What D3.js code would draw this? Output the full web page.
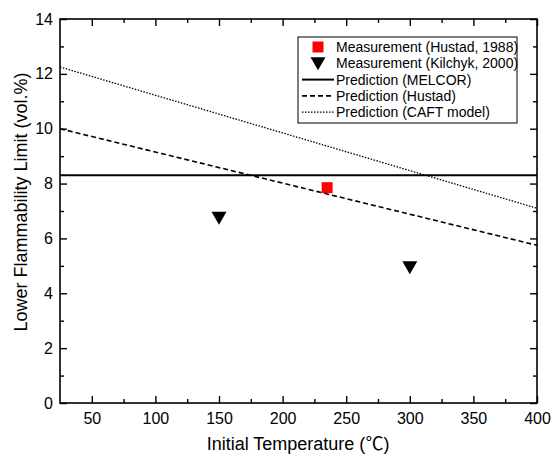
<!DOCTYPE html>
<html lang='en'>
<head>
    <meta charset='UTF-8'>
    <title>Lower Flammability Limit</title>
    <style>
        body { margin: 0; background: #fff; }
        text { font-family: 'Liberation Sans', Arial, sans-serif; fill: #000; }
        .frame { fill: none; stroke: #000; stroke-width: 1.6px; }
        .tick line { stroke: #000; stroke-width: 1.4px; }
    </style>
</head>
<body>
    <div id="chart"></div>
    <script src='https://d3js.org/d3.v7.min.js'></script>
    <script>
        // data
        const xTicks = [50, 100, 150, 200, 250, 300, 350, 400]
        const yTicks = [0, 2, 4, 6, 8, 10, 12, 14]
        const hustadMeas = [[235, 7.85]]
        const kilchykMeas = [[150, 6.75], [300, 4.95]]
        const melcorLine = [[25, 8.3], [400, 8.3]]
        const hustadLine = [[25, 10.0], [400, 5.75]]
        const caftLine = [[25, 12.25], [400, 7.1]]

        const width = 552, height = 458
        const margin = { left: 60, right: 15, top: 19, bottom: 55 }

        const x = d3.scaleLinear().domain([25, 400]).range([margin.left, width - margin.right])
        const y = d3.scaleLinear().domain([0, 14]).range([height - margin.bottom, margin.top])

        const svg = d3.select('#chart').append('svg')
            .attr('width', width)
            .attr('height', height)

        const x0 = margin.left, x1 = width - margin.right
        const y0 = height - margin.bottom, y1 = margin.top

        // ticks point inward, on all four sides
        const xMinor = d3.range(50, 400, 25).filter(v => v % 50 !== 0)
        const yMinor = d3.range(1, 14, 2)

        const drawAxis = (axis, transform, labels) => {
            const g = svg.append('g').attr('transform', transform).call(axis)
            g.select('.domain').remove()
            g.selectAll('text').style('font-size', '16px')
            if (!labels) g.selectAll('text').remove()
            return g
        }

        drawAxis(d3.axisBottom(x).tickValues(xTicks).tickSize(-7).tickPadding(10), `translate(0,${y0})`, true)
        drawAxis(d3.axisBottom(x).tickValues(xMinor).tickSize(-4), `translate(0,${y0})`, false)
        drawAxis(d3.axisTop(x).tickValues(xTicks).tickSize(-7), `translate(0,${y1})`, false)
        drawAxis(d3.axisTop(x).tickValues(xMinor).tickSize(-4), `translate(0,${y1})`, false)
        drawAxis(d3.axisLeft(y).tickValues(yTicks).tickSize(-7).tickPadding(7), `translate(${x0},0)`, true)
        drawAxis(d3.axisLeft(y).tickValues(yMinor).tickSize(-4), `translate(${x0},0)`, false)
        drawAxis(d3.axisRight(y).tickValues(yTicks).tickSize(-7), `translate(${x1},0)`, false)
        drawAxis(d3.axisRight(y).tickValues(yMinor).tickSize(-4), `translate(${x1},0)`, false)

        svg.append('rect').attr('class', 'frame')
            .attr('x', x0).attr('y', y1)
            .attr('width', x1 - x0).attr('height', y0 - y1)

        const line = d3.line().x(d => x(d[0])).y(d => y(d[1]))

        svg.append('path').datum(melcorLine).attr('d', line)
            .attr('fill', 'none').attr('stroke', '#000').attr('stroke-width', 2)
        svg.append('path').datum(hustadLine).attr('d', line)
            .attr('fill', 'none').attr('stroke', '#000').attr('stroke-width', 1.6)
            .attr('stroke-dasharray', '5,3')
        svg.append('path').datum(caftLine).attr('d', line)
            .attr('fill', 'none').attr('stroke', '#000').attr('stroke-width', 1.3)
            .attr('stroke-dasharray', '1.5,1.5')

        const square = d3.symbol().type(d3.symbolSquare).size(121)
        const triangle = 'M-7.5,-6L7.5,-6L0,7Z'

        svg.selectAll('.sq').data(hustadMeas).enter().append('path')
            .attr('class', 'sq')
            .attr('d', square)
            .attr('transform', d => `translate(${x(d[0])},${y(d[1])})`)
            .attr('fill', '#f00')
        svg.selectAll('.tri').data(kilchykMeas).enter().append('path')
            .attr('class', 'tri')
            .attr('d', triangle)
            .attr('transform', d => `translate(${x(d[0])},${y(d[1])})`)
            .attr('fill', '#000')

        // legend
        const legend = svg.append('g').attr('transform', 'translate(298,37)')
        legend.append('rect')
            .attr('width', 219).attr('height', 86)
            .attr('fill', '#fff').attr('stroke', '#000').attr('stroke-width', 1)
        const items = [
            { label: 'Measurement (Hustad, 1988)', kind: 'square' },
            { label: 'Measurement (Kilchyk, 2000)', kind: 'triangle' },
            { label: 'Prediction (MELCOR)', kind: 'solid' },
            { label: 'Prediction (Hustad)', kind: 'dash' },
            { label: 'Prediction (CAFT model)', kind: 'dot' }
        ]
        const rows = legend.selectAll('g.item').data(items).enter().append('g')
            .attr('class', 'item')
            .attr('transform', (d, i) => `translate(0,${10 + i * 16.3})`)
        rows.append('text')
            .attr('x', 38).attr('y', 0).attr('dy', '0.35em')
            .style('font-size', '14px')
            .text(d => d.label)
        rows.each(function (d) {
            const g = d3.select(this)
            if (d.kind === 'square') {
                g.append('path').attr('d', square).attr('transform', 'translate(20,0)').attr('fill', '#f00')
            } else if (d.kind === 'triangle') {
                g.append('path').attr('d', triangle).attr('transform', 'translate(20,0)').attr('fill', '#000')
            } else {
                const l = g.append('line').attr('x1', 4).attr('x2', 36).attr('y1', 0).attr('y2', 0)
                    .attr('stroke', '#000')
                if (d.kind === 'solid') l.attr('stroke-width', 2)
                if (d.kind === 'dash') l.attr('stroke-width', 1.6).attr('stroke-dasharray', '5,3')
                if (d.kind === 'dot') l.attr('stroke-width', 1.3).attr('stroke-dasharray', '1.5,1.5')
            }
        })

        // axis titles
        const xTitle = svg.append('text')
            .attr('x', 298).attr('y', 450)
            .attr('text-anchor', 'middle')
            .style('font-size', '18px')
        xTitle.append('tspan').text('Initial Temperature (')
        xTitle.append('tspan').style('font-family', "'Noto Sans CJK SC'").text('℃')
        xTitle.append('tspan').text(')')
        svg.append('text')
            .attr('transform', 'translate(27,202) rotate(-90)')
            .attr('text-anchor', 'middle')
            .style('font-size', '18px')
            .text('Lower Flammability Limit (vol.%)')
    </script>
</body>
</html>
